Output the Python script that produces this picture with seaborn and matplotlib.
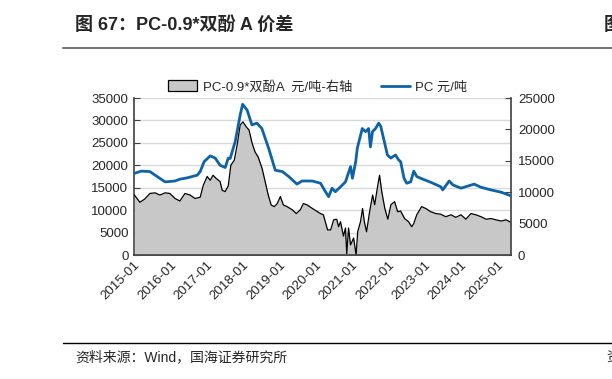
import matplotlib
matplotlib.use("Agg")
import matplotlib.pyplot as plt
import matplotlib.dates as mdates
from matplotlib.patches import Patch
from matplotlib.lines import Line2D
import seaborn as sns
import pandas as pd

# PC 价格 (元/吨, 左轴)
pc_dates = ["2015-01-05", "2015-03-15", "2015-06-10", "2015-08-01", "2015-11-10", "2016-02-18",
            "2016-04-06", "2016-06-20", "2016-09-28", "2016-10-28", "2016-12-06", "2017-02-06",
            "2017-03-28", "2017-05-16", "2017-07-06", "2017-08-06", "2017-08-25", "2017-10-15",
            "2017-12-04", "2017-12-28", "2018-02-12", "2018-04-01", "2018-05-21", "2018-07-10",
            "2018-09-16", "2018-11-22", "2019-02-01", "2019-04-06", "2019-06-28", "2019-08-18",
            "2019-11-28", "2020-02-20", "2020-04-10", "2020-05-12", "2020-06-15", "2020-07-18",
            "2020-09-08", "2020-10-28", "2020-12-18", "2021-01-06", "2021-02-08", "2021-02-24",
            "2021-04-15", "2021-05-18", "2021-06-18", "2021-07-06", "2021-07-27", "2021-08-27",
            "2021-09-27", "2021-10-18", "2021-11-15", "2021-12-24", "2022-01-27", "2022-03-15",
            "2022-04-15", "2022-05-06", "2022-06-09", "2022-07-06", "2022-08-15", "2022-09-15",
            "2022-10-15", "2022-11-24", "2023-03-06", "2023-06-15", "2023-07-03", "2023-09-06",
            "2023-10-15", "2024-01-03", "2024-05-15", "2024-07-22", "2024-11-01", "2025-02-10",
            "2025-05-18"]
pc_values = [18200, 18700, 18600, 17800, 16300, 16500,
             16900, 17200, 17800, 18600, 20800, 22100,
             21600, 20000, 19500, 21600, 21500, 25300,
             31200, 33600, 32300, 29000, 29400, 28200,
             23800, 18900, 18600, 17500, 15800, 16500,
             16500, 16000, 14100, 13000, 14900, 14100,
             15200, 16300, 19700, 17100, 20800, 23800,
             28200, 27500, 28200, 24100, 27500, 28200,
             29400, 28700, 26000, 22300, 21600, 22300,
             21200, 20800, 17100, 16000, 16300, 18700,
             17500, 17100, 16200, 15200, 14500, 16500,
             15600, 14900, 15800, 15100, 14500, 14000,
             13200]

# PC-0.9*双酚A 价差 (元/吨, 右轴)
spread_dates = ["2015-01-05", "2015-03-01", "2015-04-18", "2015-06-10", "2015-08-01", "2015-09-18",
                "2015-11-10", "2015-12-28", "2016-02-18", "2016-04-06", "2016-05-28", "2016-07-18",
                "2016-09-06", "2016-10-28", "2016-11-28", "2017-01-06", "2017-02-06", "2017-03-06",
                "2017-04-06", "2017-05-16", "2017-06-06", "2017-07-06", "2017-08-06", "2017-09-01",
                "2017-10-06", "2017-11-03", "2017-12-04", "2018-01-01", "2018-02-03", "2018-03-03",
                "2018-04-03", "2018-05-03", "2018-06-03", "2018-07-12", "2018-08-12", "2018-09-12",
                "2018-10-12", "2018-11-12", "2018-12-12", "2019-01-12", "2019-02-12", "2019-03-21",
                "2019-05-12", "2019-06-21", "2019-08-01", "2019-09-01", "2019-10-10", "2019-12-01",
                "2020-01-10", "2020-02-20", "2020-03-20", "2020-05-01", "2020-06-01", "2020-07-01",
                "2020-08-01", "2020-08-20", "2020-09-08", "2020-10-08", "2020-10-28", "2020-11-10",
                "2020-11-28", "2020-12-18", "2021-01-18", "2021-02-12", "2021-02-28", "2021-03-28",
                "2021-04-18", "2021-05-06", "2021-05-28", "2021-06-28", "2021-07-28", "2021-08-18",
                "2021-09-18", "2021-10-06", "2021-10-28", "2021-11-28", "2021-12-28", "2022-01-28",
                "2022-03-06", "2022-04-06", "2022-05-06", "2022-06-15", "2022-07-25", "2022-08-25",
                "2022-09-15", "2022-10-15", "2022-11-03", "2022-12-03", "2023-01-15", "2023-03-03",
                "2023-04-25", "2023-06-12", "2023-08-03", "2023-09-25", "2023-11-12", "2024-01-03",
                "2024-02-21", "2024-04-12", "2024-06-01", "2024-07-22", "2024-09-12", "2024-11-01",
                "2024-12-21", "2025-02-10", "2025-04-01", "2025-05-18"]
spread_values = [9550, 8400, 8900, 9800, 9900, 9550,
                 9900, 9800, 9000, 8600, 9800, 9550,
                 9000, 9200, 11100, 12500, 11900, 12700,
                 12200, 11700, 10300, 10100, 11000, 14300,
                 15100, 17500, 20700, 21200, 20400, 19900,
                 17800, 16400, 15600, 13800, 11700, 9550,
                 7960, 7700, 8200, 9300, 7960, 7700,
                 7200, 6600, 7200, 8200, 7960, 7400,
                 7000, 6600, 6400, 4000, 4000, 5600,
                 5700, 4500, 5300, 3000, 4300, 200,
                 4300, 1600, 2700, 0, 3700, 5300,
                 7400, 5300, 3700, 6900, 9550, 8000,
                 11100, 12700, 10100, 7400, 5700, 8000,
                 8500, 6900, 7000, 5800, 5300, 4500,
                 5000, 6400, 6900, 7700, 7400, 6900,
                 6600, 6500, 6100, 6400, 6000, 6400,
                 5700, 6600, 6400, 6100, 5700, 5800,
                 5600, 5400, 5600, 5200]

left_ticks = [0, 5000, 10000, 15000, 20000, 25000, 30000, 35000]
right_ticks = [0, 5000, 10000, 15000, 20000, 25000]
year_ticks = [f"{y}-01-01" for y in range(2015, 2026)]

pc = pd.DataFrame({"date": pd.to_datetime(pc_dates), "value": pc_values})
spread = pd.DataFrame({"date": pd.to_datetime(spread_dates), "value": spread_values})

sns.set_style("white")
fonts = ["Liberation Sans", "Noto Sans CJK SC", "DejaVu Sans"]
plt.rcParams["font.family"] = fonts

blue = "#0E63A6"
fig = plt.figure(figsize=(6.12, 3.79), dpi=100)
ax = fig.add_axes([134 / 612, 1 - 255 / 379, 377 / 612, 157 / 379])

# grid + left axis
ax.set_ylim(0, 35000)
ax.set_yticks(left_ticks)
ax.grid(axis="y", color="#D9D9D9", linewidth=1)
ax.set_xlim(pd.Timestamp("2015-01-01"), pd.Timestamp("2025-05-20"))

# spread on right axis
ax2 = ax.twinx()
ax2.fill_between(spread["date"], spread["value"], 0, color="#C8C8C8", linewidth=0)
sns.lineplot(data=spread, x="date", y="value", ax=ax2, color="black", linewidth=0.9)
ax2.set_ylim(0, 25000)
ax2.set_yticks(right_ticks)

# PC line on top
ax3 = ax.twinx()
sns.lineplot(data=pc, x="date", y="value", ax=ax3, color=blue, linewidth=2.0)
ax3.set_ylim(0, 35000)
ax3.set_yticks([])
for a in (ax2, ax3):
    a.set_xlim(ax.get_xlim())
    a.set_xlabel("")
    a.set_ylabel("")

for a in (ax, ax2, ax3):
    for s in a.spines.values():
        s.set_visible(False)
ax.spines["left"].set_visible(True)
ax.spines["bottom"].set_visible(True)
ax2.spines["right"].set_visible(True)
for s in (ax.spines["left"], ax.spines["bottom"], ax2.spines["right"]):
    s.set_color("#404040")
    s.set_linewidth(1.2)
ax3.spines["bottom"].set_visible(True)
ax3.spines["bottom"].set_color("#404040")
ax3.spines["bottom"].set_linewidth(1.2)

ax.set_xticks(pd.to_datetime(year_ticks))
ax.xaxis.set_major_formatter(mdates.DateFormatter("%Y-%m"))
ax.tick_params(axis="x", direction="in", length=4, color="#404040", labelsize=9.5, pad=3)
ax.tick_params(axis="y", direction="in", length=4, color="#404040", labelsize=9.5, pad=4)
ax2.tick_params(axis="y", direction="in", length=4, color="#404040", labelsize=9.5, pad=5)
ax3.tick_params(axis="x", bottom=False, labelbottom=False)
ax2.tick_params(axis="x", bottom=False, labelbottom=False)
plt.setp(ax.get_xticklabels(), rotation=45, ha="right", rotation_mode="anchor")

handles = [Patch(facecolor="#C8C8C8", edgecolor="black", linewidth=0.9),
           Line2D([0], [0], color=blue, linewidth=2.0)]
labels = ["PC-0.9*双酚A  元/吨-右轴", "PC 元/吨"]
fig.legend(handles, labels, loc="center", bbox_to_anchor=(318 / 612, 1 - 87 / 379),
           ncol=2, frameon=False, fontsize=9.5, handlelength=2.2, handleheight=0.9,
           columnspacing=2.2, handletextpad=0.4)

fig.text(75 / 612, 1 - 25 / 379, "图 67：PC-0.9*双酚 A 价差", fontsize=13, fontweight="bold",
         va="center", ha="left")
fig.text(604 / 612, 1 - 25 / 379, "图", fontsize=13, fontweight="bold", va="center", ha="left")
fig.add_artist(Line2D([63 / 612, 1], [1 - 48 / 379, 1 - 48 / 379], color="#777777", linewidth=1.5))
fig.add_artist(Line2D([63 / 612, 1], [1 - 343 / 379, 1 - 343 / 379], color="black", linewidth=1.0))
fig.text(75 / 612, 1 - 357 / 379, "资料来源：Wind，国海证券研究所", fontsize=10, va="center", ha="left")
fig.text(606 / 612, 1 - 357 / 379, "资", fontsize=10, va="center", ha="left")

fig.savefig("out.png", dpi=100, facecolor="white")
